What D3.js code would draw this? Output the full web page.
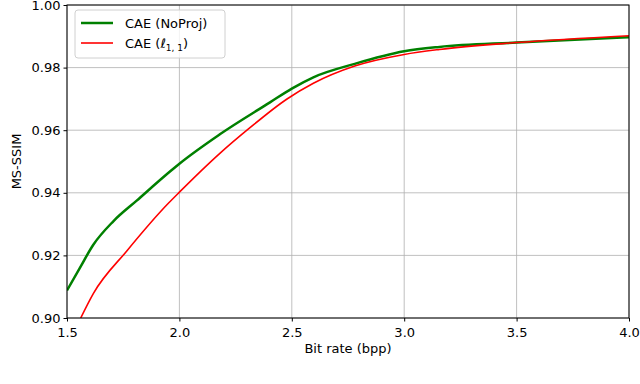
<!DOCTYPE html>
<html lang="en">
<head>
<meta charset="UTF-8">
<title>MS-SSIM vs bit rate</title>
<style>
    body { margin: 0; background: #fff; }
    text { font-family: "DejaVu Sans", sans-serif; fill: #000; }
    .grid line { stroke: #b0b0b0; stroke-width: 0.8; }
    .axis text { font-size: 13px; }
</style>
</head>
<body>
<svg width="640" height="384"></svg>
<script src="https://cdn.jsdelivr.net/npm/d3@7"></script>
<script>

// values
var noProjBpp  = [1.5, 1.558, 1.617, 1.706, 1.81, 1.958, 2.0, 2.18, 2.403, 2.5, 2.596, 2.78, 3.0, 3.157, 3.5, 4.0];
var noProjSsim = [0.9088, 0.9161, 0.9234, 0.9309, 0.9375, 0.9468, 0.9493, 0.9587, 0.9689, 0.9733, 0.9769, 0.9812, 0.9852, 0.9866, 0.9880, 0.9897];

var l11Bpp  = [1.561, 1.617, 1.766, 1.953, 2.0, 2.18, 2.314, 2.477, 2.596, 2.78, 3.0, 3.157, 3.5, 4.0];
var l11Ssim = [0.900, 0.9078, 0.9214, 0.9368, 0.9402, 0.9526, 0.9608, 0.9699, 0.9750, 0.9805, 0.9842, 0.9858, 0.9880, 0.9902];

var xTicks = [1.5, 2.0, 2.5, 3.0, 3.5, 4.0];
var yTicks = [0.90, 0.92, 0.94, 0.96, 0.98, 1.00];

var svg = d3.select("svg"),
    plotL = 67, plotR = 629, plotT = 5, plotB = 318;

var x = d3.scaleLinear().domain([1.5, 4.0]).range([plotL, plotR]);
var y = d3.scaleLinear().domain([0.90, 1.00]).range([plotB, plotT]);

// grid
var grid = svg.append("g").attr("class", "grid");
grid.selectAll(".gx").data(xTicks).enter().append("line")
    .attr("x1", d => x(d)).attr("x2", d => x(d))
    .attr("y1", plotT).attr("y2", plotB);
grid.selectAll(".gy").data(yTicks).enter().append("line")
    .attr("x1", plotL).attr("x2", plotR)
    .attr("y1", d => y(d)).attr("y2", d => y(d));

// curves
svg.append("clipPath").attr("id", "clip")
    .append("rect").attr("x", plotL).attr("y", plotT)
    .attr("width", plotR - plotL).attr("height", plotB - plotT);

var line = d3.line()
    .x(d => x(d[0]))
    .y(d => y(d[1]))
    .curve(d3.curveMonotoneX);

svg.append("path")
    .datum(d3.zip(noProjBpp, noProjSsim))
    .attr("clip-path", "url(#clip)")
    .attr("fill", "none")
    .attr("stroke", "#008000")
    .attr("stroke-width", 2.5)
    .attr("d", line);

svg.append("path")
    .datum(d3.zip(l11Bpp, l11Ssim))
    .attr("clip-path", "url(#clip)")
    .attr("fill", "none")
    .attr("stroke", "#ff0000")
    .attr("stroke-width", 1.6)
    .attr("d", line);

// axes
var xAxis = svg.append("g").attr("class", "axis")
    .attr("transform", "translate(0," + plotB + ")")
    .call(d3.axisBottom(x).tickValues(xTicks).tickFormat(d3.format(".1f")).tickSizeOuter(0).tickSize(3.5));
var yAxis = svg.append("g").attr("class", "axis")
    .attr("transform", "translate(" + plotL + ",0)")
    .call(d3.axisLeft(y).tickValues(yTicks).tickFormat(d3.format(".2f")).tickSizeOuter(0).tickSize(3.5));

svg.selectAll(".axis .domain").remove();
svg.selectAll(".axis text").attr("font-family", "DejaVu Sans").attr("font-size", 13);
xAxis.selectAll("text").attr("dy", "0.95em");

// frame
svg.append("rect")
    .attr("x", plotL).attr("y", plotT)
    .attr("width", plotR - plotL).attr("height", plotB - plotT)
    .attr("fill", "none").attr("stroke", "#000").attr("stroke-width", 1);

// axis labels
svg.append("text")
    .attr("x", (plotL + plotR) / 2).attr("y", 353)
    .attr("text-anchor", "middle").attr("font-size", 13)
    .text("Bit rate (bpp)");
svg.append("text")
    .attr("transform", "translate(21," + (plotT + plotB) / 2 + ") rotate(-90)")
    .attr("text-anchor", "middle").attr("font-size", 13)
    .text("MS-SSIM");

// legend
var lg = svg.append("g").attr("transform", "translate(75,10)");
lg.append("rect")
    .attr("width", 150).attr("height", 48).attr("rx", 3)
    .attr("fill", "#fff").attr("fill-opacity", 0.8)
    .attr("stroke", "#d0d0d0");
var legendItems = [
    {color: "#008000", width: 2.5},
    {color: "#ff0000", width: 1.6}
];
lg.selectAll(".item").data(legendItems).enter().append("line")
    .attr("x1", 6).attr("x2", 38)
    .attr("y1", (d, i) => 13 + i * 20).attr("y2", (d, i) => 13 + i * 20)
    .attr("stroke", d => d.color).attr("stroke-width", d => d.width);

lg.append("text").attr("x", 50).attr("y", 18).attr("font-size", 13)
    .text("CAE (NoProj)");
var t2 = lg.append("text").attr("x", 50).attr("y", 38).attr("font-size", 13);
t2.append("tspan").text("CAE (");
t2.append("tspan").attr("font-style", "italic").text("\u2113");
t2.append("tspan").attr("font-size", 9).attr("dy", 3).text("1, 1");
t2.append("tspan").attr("dy", -3).text(")");

</script>
</body>
</html>
